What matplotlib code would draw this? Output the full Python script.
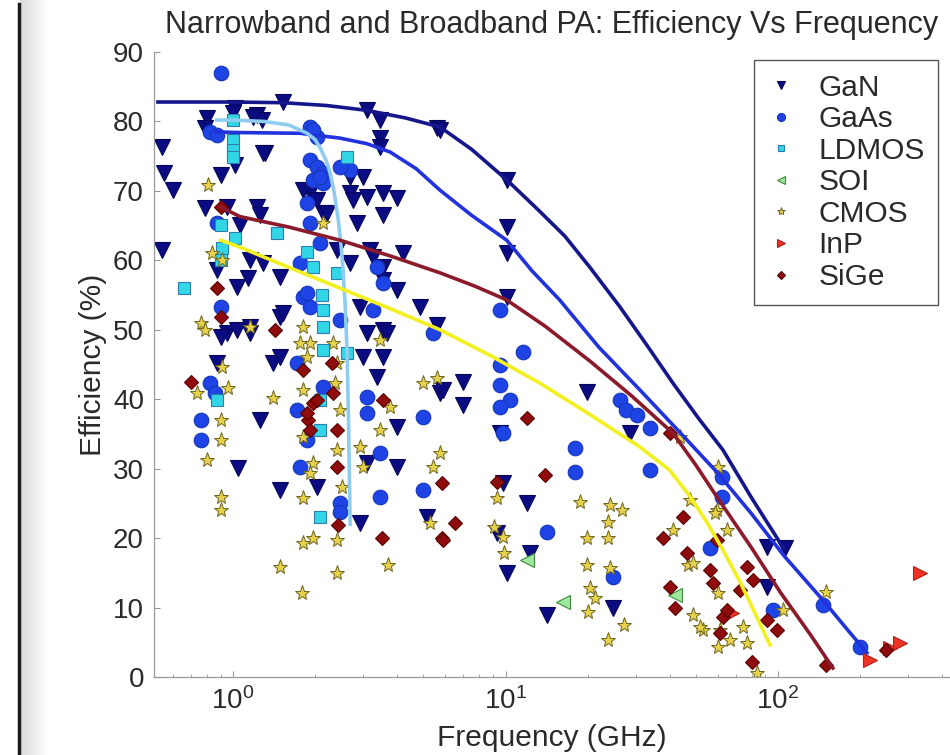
import matplotlib
matplotlib.use('Agg')
import matplotlib.pyplot as plt
import numpy as np

plt.rcParams['font.family'] = ['Liberation Sans', 'DejaVu Sans']

# ---- scatter data (GHz, %) ----
gan_f = [0.55, 0.56, 0.60, 0.55, 0.80, 0.79, 1.02, 1.0, 1.22, 1.28, 1.53, 0.90, 1.31, 1.02,
         0.79, 0.95, 1.22, 1.26, 1.06, 0.87, 1.15, 1.29, 1.03, 1.13, 1.49, 0.95, 1.03, 1.15,
         1.49, 2.14, 1.92, 3.10, 3.46, 3.46, 3.46, 5.6, 2.69, 3.0, 2.69, 3.10, 3.55, 4.0,
         3.55, 2.85, 3.18, 2.69, 3.55, 4.2, 3.55, 4.0, 4.86, 3.55, 3.10, 5.6, 2.4, 1.18,
         1.29, 1.8, 2.03, 2.21, 2.76, 3.26, 3.46, 1.53, 1.15, 2.92, 3.67, 0.90, 0.87, 1.40,
         1.49, 1.26, 1.04, 1.49, 2.03, 3.0, 3.55, 3.37, 4.0, 4.0, 2.92, 5.15, 5.75, 3.10,
         10.1, 10.1, 10.1, 10.1, 7.0, 5.9, 7.0, 19.9, 9.55, 9.8, 12.0, 9.3, 12.3, 10.1,
         14.2, 24.8, 28.6, 91, 91, 106, 5.75]
gan_e = [76.3, 72.6, 70.1, 61.5, 80.5, 79.1, 81.9, 81.2, 80.9, 80.2, 82.8, 72.3, 75.5, 73.7,
         67.5, 67.7, 67.7, 66.5, 65.1, 58.6, 60.1, 59.6, 56.2, 57.5, 57.6, 49.5, 50.0, 49.5,
         51.8, 66.8, 69.7, 81.6, 80.2, 77.6, 76.3, 79.1, 72.0, 72.0, 69.7, 69.1, 69.7, 69.0,
         66.5, 65.4, 61.5, 59.6, 59.0, 61.1, 57.2, 55.7, 53.3, 50.0, 49.5, 50.7, 61.5, 80.6,
         75.5, 70.1, 68.7, 66.8, 68.7, 60.5, 58.6, 52.4, 50.4, 53.3, 49.5, 49.0, 45.2, 45.2,
         46.1, 37.0, 30.1, 26.9, 27.4, 46.1, 46.1, 43.2, 36.0, 30.2, 22.2, 23.0, 40.9, 30.8,
         71.6, 64.8, 61.1, 54.7, 42.5, 41.3, 39.2, 41.0, 35.1, 27.9, 25.1, 20.7, 17.9, 15.0,
         8.9, 9.9, 35.1, 18.7, 13.0, 18.6, 78.8]

gaas_f = [0.90, 0.82, 0.87, 1.92, 2.03, 1.92, 2.03, 2.14, 1.97, 2.14, 1.87, 1.92, 2.69, 2.47,
          0.87, 3.55, 3.37, 0.90, 1.8, 1.92, 5.4, 1.97, 2.09, 2.09, 1.76, 1.87, 2.47, 3.26,
          1.72, 1.72, 1.87, 2.14, 1.76, 2.47, 2.47, 3.10, 3.10, 4.97, 3.46, 3.46, 4.97, 0.82,
          0.86, 0.76, 0.76, 9.55, 11.6, 9.55, 9.55, 10.4, 9.55, 9.8, 18.0, 18.0, 14.2, 24.8,
          26.3, 27.8, 30.4, 33.9, 33.9, 62.4, 62.4, 56.3, 95.9, 146, 200]
gaas_e = [87.0, 78.5, 78.1, 79.2, 77.8, 74.5, 73.4, 72.6, 71.6, 71.1, 68.3, 65.4, 73.0, 73.4,
          65.4, 56.7, 59.0, 53.3, 54.7, 53.3, 49.5, 78.8, 72.0, 62.5, 59.6, 55.3, 51.4, 52.8,
          45.2, 38.5, 34.1, 41.8, 30.2, 25.1, 23.8, 40.3, 38.0, 37.4, 32.3, 25.9, 26.9, 42.3,
          40.9, 37.0, 34.1, 52.9, 46.8, 44.9, 42.1, 39.9, 38.9, 35.1, 33.0, 29.5, 20.9, 14.4,
          39.9, 38.5, 37.7, 35.9, 29.8, 28.8, 25.9, 18.6, 9.6, 10.4, 4.3]

ldmos_f = [0.66, 1.0, 1.0, 1.0, 1.0, 0.90, 1.02, 0.91, 0.90, 1.45, 1.87, 1.97, 2.12, 2.14,
           2.14, 2.62, 2.41, 2.14, 2.62, 2.09, 2.09, 2.09, 0.87]
ldmos_e = [56.0, 80.2, 77.3, 75.9, 74.9, 65.1, 63.2, 61.8, 60.0, 63.9, 61.2, 59.0, 55.0, 52.9,
           50.4, 74.9, 58.2, 47.1, 46.7, 39.9, 35.6, 23.0, 39.9]

soi_f = [12.0, 16.2, 42.0]
soi_e = [16.8, 10.8, 11.8]

cmos_f = [0.81, 0.84, 0.91, 0.76, 0.79, 1.15, 1.8, 1.92, 2.14, 3.46, 0.74, 0.91, 0.96, 0.90,
          0.90, 0.80, 0.90, 0.90, 1.40, 1.8, 1.8, 1.97, 1.49, 2.41, 2.41, 1.79, 3.7, 2.92,
          3.0, 3.46, 3.77, 5.0, 5.6, 5.75, 5.4, 5.28, 1.76, 1.87, 1.8, 1.8, 1.97, 2.33, 2.41,
          2.37, 2.47, 2.41, 2.51, 1.92, 9.3, 9.1, 9.8, 9.9, 18.8, 24.2, 26.8, 23.8, 19.9, 23.8,
          19.9, 24.2, 20.4, 21.3, 20.1, 27.3, 23.8, 41.2, 47.6, 46.7, 60.1, 59.6, 64.9, 43.7,
          60.1, 48.8, 52.9, 61.3, 66.7, 104, 150, 58.7, 48.8, 51.8, 60.1, 76.7, 74.4, 83.7]
cmos_e = [70.9, 61.1, 60.1, 51.0, 50.0, 50.4, 50.4, 48.1, 65.4, 48.5, 40.9, 44.6, 41.6, 37.0,
          34.1, 31.2, 25.9, 24.0, 40.2, 25.8, 19.3, 20.0, 15.8, 19.7, 15.0, 12.1, 16.1, 33.1,
          30.2, 35.6, 38.9, 42.3, 43.1, 32.3, 30.2, 22.2, 48.1, 46.1, 41.3, 34.6, 30.8, 48.1, 45.2,
          42.3, 38.5, 32.7, 27.4, 29.4, 25.8, 21.6, 20.2, 17.9, 25.2, 24.8, 24.0, 22.3, 20.0, 20.0,
          16.1, 15.7, 12.8, 11.4, 9.4, 7.5, 5.3, 21.2, 25.5, 16.1, 30.2, 24.0, 21.2, 34.6,
          12.1, 8.9, 6.8, 6.8, 5.3, 9.6, 12.2, 23.6, 16.4, 7.2, 4.3, 4.9, 7.2, 0.6]

inp_f = [332, 218, 258, 68, 281]
inp_e = [15.0, 2.4, 4.2, 9.2, 4.9]

sige_f = [0.90, 0.87, 0.90, 1.43, 0.70, 1.8, 1.97, 1.88, 2.31, 2.33, 2.41, 2.41, 2.43, 3.55,
          3.52, 5.83, 5.83, 2.03, 1.87, 1.92, 6.5, 5.9, 12.0, 9.3, 14.0, 37.9, 40.2, 42.0,
          44.8, 46.3, 59.6, 57.6, 76.7, 80.9, 72.6, 91, 99, 63, 65, 61.3, 40.2, 56.3, 80.4,
          150, 250]
sige_e = [67.7, 56.0, 51.8, 50.0, 42.5, 44.2, 39.5, 37.0, 45.2, 40.9, 35.6, 30.2, 21.9, 39.9,
          20.0, 27.9, 20.0, 39.9, 38.0, 35.6, 22.2, 19.7, 37.3, 28.1, 29.1, 20.0, 13.0, 9.9,
          23.0, 17.9, 19.7, 13.5, 15.8, 14.0, 12.5, 8.2, 6.8, 8.6, 9.6, 6.3, 35.1, 15.4, 2.2,
          1.7, 3.9]

# ---- trend curves ----
gan_fit_f = [0.53, 1.0, 1.53, 2.2, 3.1, 4.3, 5.75, 7.5, 10.1, 13, 16.5, 20.4, 26.3, 33,
             41.2, 51, 62.8, 80, 105]
gan_fit_e = [82.8, 82.8, 82.7, 82.3, 81.6, 80.5, 79.2, 76.0, 71.6, 67.5, 63.5, 59.0, 53.3,
             47.8, 42.3, 37.3, 32.7, 25.8, 18.5]

gaas_fit_f = [0.86, 1.06, 1.76, 2.47, 3.1, 3.77, 4.7, 5.75, 7.5, 10.1, 12.5, 15.8, 22, 31.2,
              43, 59.7, 80, 105, 146, 180, 212]
gaas_fit_e = [78.5, 78.4, 78.3, 77.6, 76.8, 75.6, 73.2, 70.1, 66.5, 62.9, 58.5, 54.3, 47.5,
              41.3, 35.5, 29.5, 23.5, 17.5, 11.1, 6.8, 3.5]

ldmos_fit_f = [0.87, 1.0, 1.3, 1.6, 1.87, 2.0, 2.1, 2.2, 2.27, 2.35, 2.43, 2.5, 2.53, 2.58,
               2.62, 2.65, 2.67, 2.69]
ldmos_fit_e = [80.2, 80.2, 80.0, 79.5, 78.3, 77.4, 76.0, 74.3, 72.6, 69.8, 66.0, 61.5, 59.0,
               53.5, 47.0, 38.0, 30.0, 22.0]

sige_fit_f = [0.9, 1.06, 1.6, 2.47, 3.8, 5.75, 7.7, 10.1, 14, 20.4, 29, 41.2, 50, 60, 80,
              102, 131, 159]
sige_fit_e = [67.7, 66.3, 64.8, 62.9, 60.6, 58.2, 56.3, 54.3, 50.5, 45.5, 40.5, 35.1, 30.5,
              25.8, 18.6, 12.2, 6.2, 1.3]

cmos_fit_f = [0.9, 1.06, 1.6, 2.47, 3.8, 5.75, 8.8, 13.4, 20.4, 31.2, 40, 47.6, 55, 62.8,
              73, 83.7, 93.5]
cmos_fit_e = [62.9, 61.9, 59.0, 56.0, 53.0, 50.0, 46.3, 42.3, 37.8, 33.1, 29.8, 26.0, 22.2,
              18.3, 13.5, 8.6, 4.6]

fig = plt.figure(figsize=(9.5, 7.55), dpi=100)

# screenshot edge on the left
shade = fig.add_axes([0.021, 0, 0.03, 1])
shade.imshow(np.linspace(0.86, 1.0, 64).reshape(1, -1), cmap='gray', vmin=0, vmax=1,
             aspect='auto', extent=[0, 1, 0, 1])
shade.axis('off')
fig.add_artist(plt.Line2D([0.0195, 0.0195], [0, 0.995], color='#1a1a1a', lw=2.5))

ax = fig.add_axes([0.1617, 0.1033, 0.8383, 0.8278])

ax.plot(gan_f, gan_e, 'v', ms=11, mfc='#0c0c82', mec='#05055a', mew=0.8, ls='none', label='GaN')
ax.plot(gaas_f, gaas_e, 'o', ms=10.5, mfc='#1e44e6', mec='#1535b8', mew=0.8, ls='none', label='GaAs')
ax.plot(ldmos_f, ldmos_e, 's', ms=8.5, mfc='#33d6e6', mec='#2a7fb0', mew=0.8, ls='none', label='LDMOS')
ax.plot(soi_f, soi_e, '<', ms=10, mfc='#9fe89f', mec='#3d8a3d', mew=0.8, ls='none', label='SOI')
ax.plot(cmos_f, cmos_e, '*', ms=11, mfc='#e6d24a', mec='#6e6420', mew=0.7, ls='none', label='CMOS')
ax.plot(inp_f, inp_e, '>', ms=10, mfc='#ee3322', mec='#b02020', mew=0.8, ls='none', label='InP')
ax.plot(sige_f, sige_e, 'D', ms=7.5, mfc='#8e0c0c', mec='#5a0000', mew=0.8, ls='none', label='SiGe')

ax.plot(gan_fit_f, gan_fit_e, color='#15158c', lw=2.6)
ax.plot(gaas_fit_f, gaas_fit_e, color='#2233dd', lw=2.6)
ax.plot(ldmos_fit_f, ldmos_fit_e, color='#8ecdf0', lw=2.6)
ax.plot(sige_fit_f, sige_fit_e, color='#8b1a2a', lw=2.6)
ax.plot(cmos_fit_f, cmos_fit_e, color='#f2f01e', lw=2.6)

ax.set_xscale('log')
ax.set_xlim(0.511, 428)
ax.set_ylim(0, 90)
ax.set_yticks(np.arange(0, 91, 10))

for s in ['top', 'right']:
    ax.spines[s].set_visible(False)
for s in ['left', 'bottom']:
    ax.spines[s].set_color('#999999')
    ax.spines[s].set_linewidth(0.9)

ax.tick_params(which='major', direction='in', length=4, color='#999999',
               labelsize=20, labelcolor='#2a2a2a', pad=7)
ax.tick_params(which='minor', direction='in', length=2.5, color='#999999')

ax.set_xlabel('Frequency (GHz)', fontsize=21.5, color='#2a2a2a', labelpad=7)
ax.set_ylabel('Efficiency (%)', fontsize=21.5, color='#2a2a2a', labelpad=4)
ax.set_title('Narrowband and Broadband PA: Efficiency Vs Frequency', fontsize=22,
             color='#2a2a2a', pad=14)

leg = ax.legend(loc='upper right', bbox_to_anchor=(0.985, 0.987), borderaxespad=0,
                fontsize=21.5, markerscale=0.55, handlelength=0.9, handletextpad=0.8,
                labelspacing=0.12, borderpad=0.45, fancybox=False, framealpha=1)
leg.get_frame().set_edgecolor('#555555')
leg.get_frame().set_linewidth(1.0)
for t in leg.get_texts():
    t.set_color('#2a2a2a')

fig.savefig('out.png', dpi=100)
